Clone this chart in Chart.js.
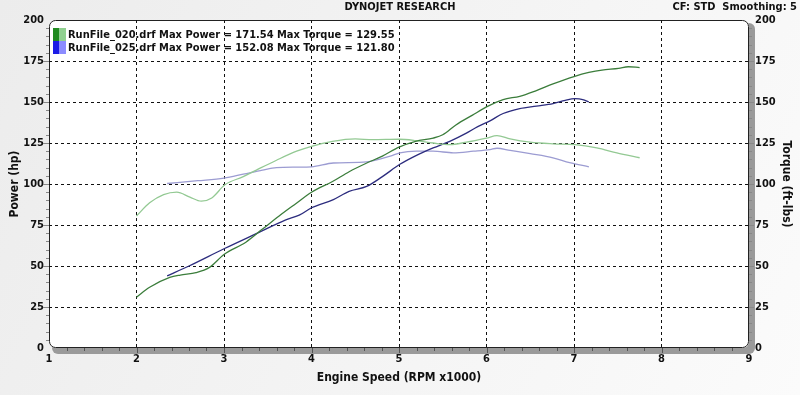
<!DOCTYPE html>
<html>
<head>
<meta charset="utf-8">
<script src="https://cdn.jsdelivr.net/npm/chart.js@4.4.1/dist/chart.umd.min.js"></script>
<style>
  html, body { margin: 0; padding: 0; background: #fff; }
  #wrap { position: relative; width: 800px; height: 395px; overflow: hidden; }
  canvas { position: absolute; left: 0; top: 0; }
  .txt { position: absolute; font-family: 'DejaVu Sans Condensed', 'DejaVu Sans', sans-serif; font-weight: bold; font-size: 11px; color: #111; white-space: nowrap; line-height: 13px; }
  .sw { position: absolute; width: 13px; height: 13px; }
</style>
</head>
<body>
<div id="wrap">
  <canvas id="c" width="800" height="395"></canvas>
  <div class="txt" id="hdr" style="left:0; width:800px; top:0; text-align:center;">DYNOJET RESEARCH</div>
  <div class="txt" id="cf" style="right:3px; top:0;">CF: STD&nbsp;&nbsp;Smoothing: 5</div>
  <div class="sw" style="left:53px; top:28px; background:linear-gradient(90deg,#1f8a1f 0,#1f8a1f 50%,#8fd08f 50%,#8fd08f 100%);"></div>
  <div class="sw" style="left:53px; top:41px; background:linear-gradient(90deg,#1c1ce6 0,#1c1ce6 50%,#8c8cff 50%,#8c8cff 100%);"></div>
  <div class="txt" id="lg1" style="left:68px; top:28px;"></div>
  <div class="txt" id="lg2" style="left:68px; top:41px;"></div>
</div>
<script>
// ---------- DATA ----------
const runNames = ['RunFile_020.drf', 'RunFile_025.drf'];
const maxPower = ['171.54', '152.08'];
const maxTorque = ['129.55', '121.80'];

// Run 020 power (hp) vs RPM x1000
const rpm020Power = [2.00, 2.15, 2.38, 2.50, 2.68, 2.83, 3.00, 3.25, 3.44, 3.63, 3.82, 4.00, 4.24, 4.43, 4.62, 4.81, 5.00, 5.19, 5.39, 5.50, 5.65, 5.84, 6.00, 6.19, 6.38, 6.57, 6.76, 7.00, 7.17, 7.32, 7.51, 7.62, 7.75];
const hp020 =       [31,   37,   43,   44.5, 46,   49,   57,   64.5, 72.5, 80.5, 88,   95,   101.5,107.5,112.5,117,  122.5,126,  128,  130,  136,  142,  147,  151.5,153.5,157,  161,  165.5,168,  169.5,170.5,171.5,171];

// Run 020 torque (ft-lbs)
const rpm020Torque = [2.00, 2.15, 2.31, 2.46, 2.61, 2.74, 2.86, 3.01, 3.22, 3.37, 3.60, 3.83, 4.00, 4.24, 4.50, 4.70, 5.00, 5.19, 5.39, 5.58, 5.77, 6.00, 6.12, 6.27, 6.50, 6.76, 7.01, 7.26, 7.49, 7.75];
const tq020 =        [80.5, 88.5, 93.5, 95,   92,   89.5, 91.5, 99.5, 104.5,108.5,114.5,120,  123,  126,  127.5,127,  127.3,126.5,125,  124,  125.5,128,  129.5,127.5,125.5,124.5,124,  122,  119,  116];

// Run 025 power (hp)
const rpm025Power = [2.35, 2.60, 3.00, 3.40, 3.70, 3.86, 4.00, 4.25, 4.43, 4.63, 4.81, 5.01, 5.20, 5.39, 5.58, 5.77, 5.90, 6.04, 6.19, 6.38, 6.57, 6.76, 6.90, 7.01, 7.10, 7.17];
const hp025 =       [44,   50,   60.5, 70.5, 78,   81,   85.5, 90.5, 95.5, 98.5, 104.5,112,  117.5,122,  126,  131,  135,  138.5,143,  146,  147.5,149,  151,  152,  151.5,150];

// Run 025 torque (ft-lbs)
const rpm025Torque = [2.35, 2.70, 3.00, 3.22, 3.44, 3.60, 3.83, 4.00, 4.25, 4.63, 4.90, 5.01, 5.20, 5.39, 5.62, 5.85, 6.04, 6.12, 6.27, 6.50, 6.76, 6.95, 7.17];
const tq025 =        [100.3,102,  103.6,106,  108.5,110,  110.3,110.5,112.8,113.5,117,  119,  120,  120,  119,  120,  121,  121.8,120.5,118.5,116,  113,  110.5];

const yTicks = [0, 25, 50, 75, 100, 125, 150, 175, 200];
const xTicks = [1, 2, 3, 4, 5, 6, 7, 8, 9];
// --------------------------

document.getElementById('lg1').textContent = runNames[0] + ' Max Power = ' + maxPower[0] + ' Max Torque = ' + maxTorque[0];
document.getElementById('lg2').textContent = runNames[1] + ' Max Power = ' + maxPower[1] + ' Max Torque = ' + maxTorque[1];

const pts = (xs, ys) => xs.map((x, i) => ({ x: x, y: ys[i] }));
const FONT = { family: "'DejaVu Sans Condensed', 'DejaVu Sans', sans-serif", weight: 'bold', size: 11 };

const frame = {
  id: 'frame',
  beforeDraw(chart) {
    const ctx = chart.ctx, a = chart.chartArea;
    ctx.save();
    const g = ctx.createLinearGradient(0, 0, 800, 395);
    g.addColorStop(0, '#ececec');
    g.addColorStop(1, '#fbfbfb');
    ctx.fillStyle = g;
    ctx.fillRect(0, 0, chart.width, chart.height);
    const r = 6, L = a.left, T = a.top, R = a.right, B = a.bottom;
    // shadow band
    ctx.fillStyle = '#9a9a9a';
    ctx.beginPath();
    ctx.roundRect(L + 3, T + 3, R - L + 3, B - T + 3, r);
    ctx.fill();
    // white plot box
    ctx.fillStyle = '#ffffff';
    ctx.beginPath();
    ctx.roundRect(L, T, R - L, B - T, r);
    ctx.fill();
    ctx.strokeStyle = '#222';
    ctx.lineWidth = 1;
    ctx.beginPath();
    ctx.roundRect(L + 0.5, T + 0.5, R - L - 1, B - T - 1, r);
    ctx.stroke();
    ctx.restore();
  },
  afterDraw(chart) {
    const ctx = chart.ctx, a = chart.chartArea;
    const ys = chart.scales.y, xs = chart.scales.x;
    ctx.save();
    ctx.lineWidth = 1;
    // left minor ticks
    ctx.strokeStyle = '#888';
    for (let v = 5; v < 200; v += 5) {
      const py = Math.round(ys.getPixelForValue(v)) + 0.5;
      const major = v % 25 === 0;
      ctx.beginPath();
      ctx.moveTo(a.left - (major ? 6 : 3), py);
      ctx.lineTo(a.left, py);
      ctx.stroke();
      // right band ticks
      ctx.beginPath();
      ctx.moveTo(a.right, py);
      ctx.lineTo(a.right + (major ? 5 : 3), py);
      ctx.stroke();
    }
    // bottom band ticks
    ctx.strokeStyle = '#555';
    for (let k = 1; k < 40; k++) {
      const v = 1 + k * 0.2;
      const px = Math.round(xs.getPixelForValue(v)) + 0.5;
      ctx.beginPath();
      ctx.moveTo(px, a.bottom);
      ctx.lineTo(px, a.bottom + (k % 5 === 0 ? 5 : 3));
      ctx.stroke();
    }
    ctx.restore();
  }
};

const edgeY = (c) => (c.tick && (c.tick.value === 0 || c.tick.value === 200)) ? 'rgba(0,0,0,0)' : '#111';
const edgeX = (c) => (c.tick && (c.tick.value === 1 || c.tick.value === 9)) ? 'rgba(0,0,0,0)' : '#111';

new Chart(document.getElementById('c'), {
  type: 'scatter',
  data: {
    datasets: [
      { label: 'P020', data: pts(rpm020Power, hp020), borderColor: '#3b7d3b', yAxisID: 'y' },
      { label: 'T020', data: pts(rpm020Torque, tq020), borderColor: '#93c993', yAxisID: 'y2' },
      { label: 'P025', data: pts(rpm025Power, hp025), borderColor: '#2c2c7e', yAxisID: 'y' },
      { label: 'T025', data: pts(rpm025Torque, tq025), borderColor: '#9c9cd2', yAxisID: 'y2' }
    ].map(d => Object.assign(d, { showLine: true, pointRadius: 0, borderWidth: 1.3, cubicInterpolationMode: 'monotone', fill: false }))
  },
  options: {
    responsive: false,
    animation: false,
    layout: { padding: { top: 20, left: 0, right: 0, bottom: 0 } },
    plugins: { legend: { display: false }, tooltip: { enabled: false }, title: { display: false } },
    scales: {
      x: {
        type: 'linear', min: 1, max: 9,
        afterBuildTicks: (s) => { s.ticks = xTicks.map(v => ({ value: v })); },
        afterFit: (s) => { s.height = 47; },
        grid: { color: edgeX, lineWidth: 1, drawTicks: false },
        border: { display: false, dash: [3, 3] },
        ticks: { font: FONT, color: '#111', padding: 5, maxRotation: 0 },
        title: { display: true, text: 'Engine Speed (RPM x1000)', font: { family: FONT.family, weight: 'bold', size: 12 }, color: '#111', padding: { top: 0, bottom: 10 } }
      },
      y: {
        type: 'linear', position: 'left', min: 0, max: 200,
        afterBuildTicks: (s) => { s.ticks = yTicks.map(v => ({ value: v })); },
        afterFit: (s) => { s.width = 49; },
        grid: { color: edgeY, lineWidth: 1, drawTicks: false },
        border: { display: false, dash: [3, 3] },
        ticks: { font: FONT, color: '#111', padding: 5 },
        title: { display: true, text: 'Power (hp)', font: { family: FONT.family, weight: 'bold', size: 12 }, color: '#111', padding: { top: 8, bottom: 0 } }
      },
      y2: {
        type: 'linear', position: 'right', min: 0, max: 200,
        afterBuildTicks: (s) => { s.ticks = yTicks.map(v => ({ value: v })); },
        afterFit: (s) => { s.width = 51; },
        grid: { display: false, drawTicks: false },
        border: { display: false },
        ticks: { font: FONT, color: '#111', padding: 6 },
        title: { display: true, text: 'Torque (ft-lbs)', font: { family: FONT.family, weight: 'bold', size: 12 }, color: '#111', padding: { top: 7, bottom: 0 } }
      }
    }
  },
  plugins: [frame]
});
</script>
</body>
</html>
